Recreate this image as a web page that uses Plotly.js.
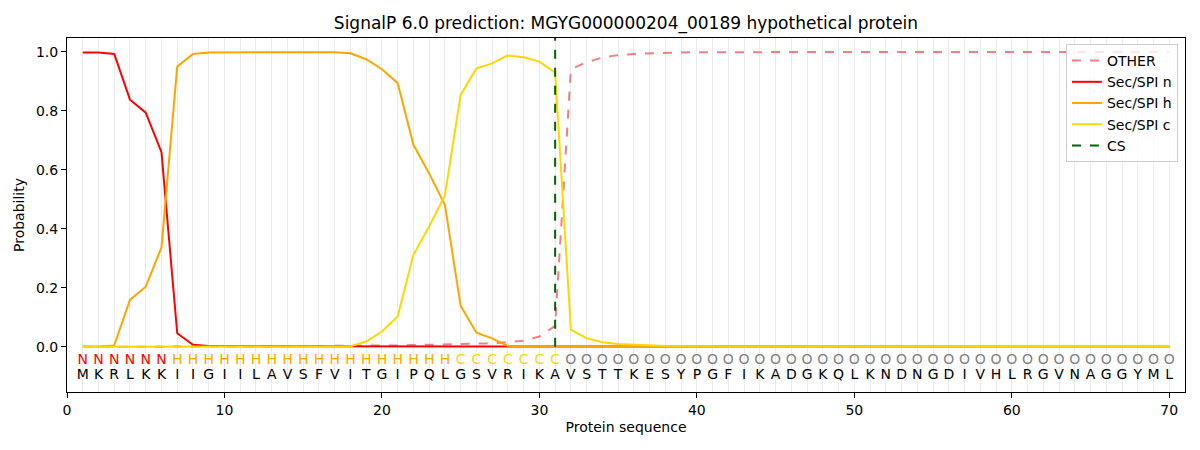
<!DOCTYPE html>
<html>
<head>
<meta charset="utf-8">
<script src="https://cdn.plot.ly/plotly-3.0.1.min.js"></script>
<style>
  html, body { margin: 0; padding: 0; background: #fff; }
  #chart { width: 1200px; height: 450px; }
</style>
</head>
<body>
<div id="chart"></div>
<script>
'use strict';

// Residues and predicted region labels, one per position
var sequence = 'MKRLKKIIGIILAVSFVITGIPQLGSVRIKAVSTTKESYPGFIKADGKQLKNDNGDIVHLRGVNAGGYML'.split('');
var regions = 'NNNNNNHHHHHHHHHHHHHHHHHHCCCCCCCOOOOOOOOOOOOOOOOOOOOOOOOOOOOOOOOOOOOOOO'.split('');

// Per-position probabilities
var probOther = [
    0.000, 0.000, 0.000, 0.001, 0.001, 0.001, 0.001, 0.002, 0.002, 0.002,
    0.002, 0.002, 0.002, 0.002, 0.002, 0.003, 0.003, 0.003, 0.003, 0.004,
    0.005, 0.006, 0.007, 0.008, 0.009, 0.010, 0.012, 0.016, 0.021, 0.035,
    0.071, 0.941, 0.965, 0.981, 0.989, 0.993, 0.995, 0.997, 0.998, 0.999,
    0.999, 0.999, 0.999, 0.999, 1.000, 1.000, 1.000, 1.000, 1.000, 1.000,
    1.000, 1.000, 1.000, 1.000, 1.000, 1.000, 1.000, 1.000, 1.000, 1.000,
    1.000, 1.000, 1.000, 1.000, 1.000, 1.000, 1.000, 1.000, 1.000, 1.000
];
var probN = [
    0.998, 0.998, 0.993, 0.838, 0.794, 0.660, 0.046, 0.007, 0.003, 0.002,
    0.002, 0.002, 0.002, 0.002, 0.002, 0.002, 0.002, 0.002, 0.002, 0.002,
    0.001, 0.001, 0.001, 0.001, 0.001, 0.001, 0.001, 0.000, 0.000, 0.000,
    0.000, 0.000, 0.000, 0.000, 0.000, 0.000, 0.000, 0.000, 0.000, 0.000,
    0.000, 0.000, 0.000, 0.000, 0.000, 0.000, 0.000, 0.000, 0.000, 0.000,
    0.000, 0.000, 0.000, 0.000, 0.000, 0.000, 0.000, 0.000, 0.000, 0.000,
    0.000, 0.000, 0.000, 0.000, 0.000, 0.000, 0.000, 0.000, 0.000, 0.000
];
var probH = [
    0.001, 0.001, 0.005, 0.159, 0.204, 0.337, 0.950, 0.993, 0.998, 0.999,
    0.999, 0.999, 0.999, 0.999, 0.999, 0.999, 0.999, 0.995, 0.975, 0.941,
    0.894, 0.685, 0.588, 0.481, 0.139, 0.048, 0.029, 0.003, 0.001, 0.001,
    0.001, 0.000, 0.000, 0.000, 0.000, 0.000, 0.000, 0.000, 0.000, 0.000,
    0.000, 0.000, 0.000, 0.000, 0.000, 0.000, 0.000, 0.000, 0.000, 0.000,
    0.000, 0.000, 0.000, 0.000, 0.000, 0.000, 0.000, 0.000, 0.000, 0.000,
    0.000, 0.000, 0.000, 0.000, 0.000, 0.000, 0.000, 0.000, 0.000, 0.000
];
var probC = [
    0.000, 0.000, 0.000, 0.000, 0.000, 0.000, 0.001, 0.001, 0.001, 0.001,
    0.001, 0.001, 0.001, 0.001, 0.001, 0.001, 0.001, 0.002, 0.018, 0.052,
    0.103, 0.312, 0.408, 0.513, 0.854, 0.944, 0.961, 0.988, 0.982, 0.967,
    0.930, 0.058, 0.029, 0.016, 0.010, 0.007, 0.005, 0.003, 0.002, 0.001,
    0.001, 0.001, 0.001, 0.001, 0.000, 0.000, 0.000, 0.000, 0.000, 0.000,
    0.000, 0.000, 0.000, 0.000, 0.000, 0.000, 0.000, 0.000, 0.000, 0.000,
    0.000, 0.000, 0.000, 0.000, 0.000, 0.000, 0.000, 0.000, 0.000, 0.000
];

var cleavageSite = 31;

var positions = sequence.map(function (aa, i) { return i + 1; });

var regionColors = { N: '#ff0000', H: '#ffa500', C: '#ffd700', O: '#808080' };

var FONT = 'DejaVu Sans, Liberation Sans, sans-serif';

function lineTrace (name, y, color, dash) {
    return {
        type: 'scatter',
        mode: 'lines',
        name: name,
        x: positions,
        y: y,
        line: { color: color, width: 2, dash: dash || 'solid' },
        hoverinfo: 'skip'
    };
}

var traces = [
    lineTrace('OTHER', probOther, '#f08080', 'dash'),
    lineTrace('Sec/SPI n', probN, '#ff0000'),
    lineTrace('Sec/SPI h', probH, '#ffa500'),
    lineTrace('Sec/SPI c', probC, '#ffd700'),
    {
        type: 'scatter',
        mode: 'lines',
        name: 'CS',
        x: [cleavageSite, cleavageSite],
        y: [0, 1.05],
        line: { color: '#006400', width: 2, dash: 'dash' },
        hoverinfo: 'skip'
    },
    // region letters
    {
        type: 'scatter',
        mode: 'text',
        showlegend: false,
        x: positions,
        y: positions.map(function () { return -0.047; }),
        text: regions,
        textfont: {
            family: FONT, size: 14,
            color: regions.map(function (r) { return regionColors[r]; })
        },
        hoverinfo: 'skip'
    },
    // amino acid letters
    {
        type: 'scatter',
        mode: 'text',
        showlegend: false,
        x: positions,
        y: positions.map(function () { return -0.098; }),
        text: sequence,
        textfont: { family: FONT, size: 14, color: '#000000' },
        hoverinfo: 'skip'
    }
];

var layout = {
    width: 1200,
    height: 450,
    paper_bgcolor: '#ffffff',
    plot_bgcolor: '#ffffff',
    font: { family: FONT, size: 14, color: '#000000' },
    margin: { l: 67, r: 15, t: 38, b: 58 },
    title: {
        text: 'SignalP 6.0 prediction: MGYG000000204_00189 hypothetical protein',
        font: { family: FONT, size: 17, color: '#000000' },
        x: 0.5,
        xref: 'paper',
        y: 1 - 23 / 450,
        yanchor: 'middle'
    },
    xaxis: {
        range: [0, 71],
        tickvals: [0, 10, 20, 30, 40, 50, 60, 70],
        ticks: 'outside',
        ticklen: 5,
        tickcolor: '#000000',
        showline: true,
        linecolor: '#000000',
        linewidth: 1,
        mirror: true,
        showgrid: true,
        gridcolor: '#ebebeb',
        zeroline: false,
        minor: { dtick: 1, tick0: 0, showgrid: true, gridcolor: '#ebebeb', ticks: '' },
        title: { text: 'Protein sequence', standoff: 5, font: { family: FONT, size: 14 } }
    },
    yaxis: {
        range: [-0.153, 1.047],
        tickvals: [0, 0.2, 0.4, 0.6, 0.8, 1.0],
        ticktext: ['0.0', '0.2', '0.4', '0.6', '0.8', '1.0'],
        ticks: 'outside',
        ticklen: 5,
        tickcolor: '#000000',
        showline: true,
        linecolor: '#000000',
        linewidth: 1,
        mirror: true,
        showgrid: false,
        zeroline: false,
        title: { text: 'Probability', standoff: 8, font: { family: FONT, size: 14 } }
    },
    legend: {
        x: 0.9937,
        y: 0.983,
        xanchor: 'right',
        yanchor: 'top',
        bgcolor: 'rgba(255,255,255,0.8)',
        bordercolor: '#cccccc',
        borderwidth: 1,
        font: { family: FONT, size: 14, color: '#000000' },
        tracegroupgap: 0
    },
    showlegend: true
};

Plotly.newPlot('chart', traces, layout, { displayModeBar: false, staticPlot: true });
</script>
</body>
</html>
